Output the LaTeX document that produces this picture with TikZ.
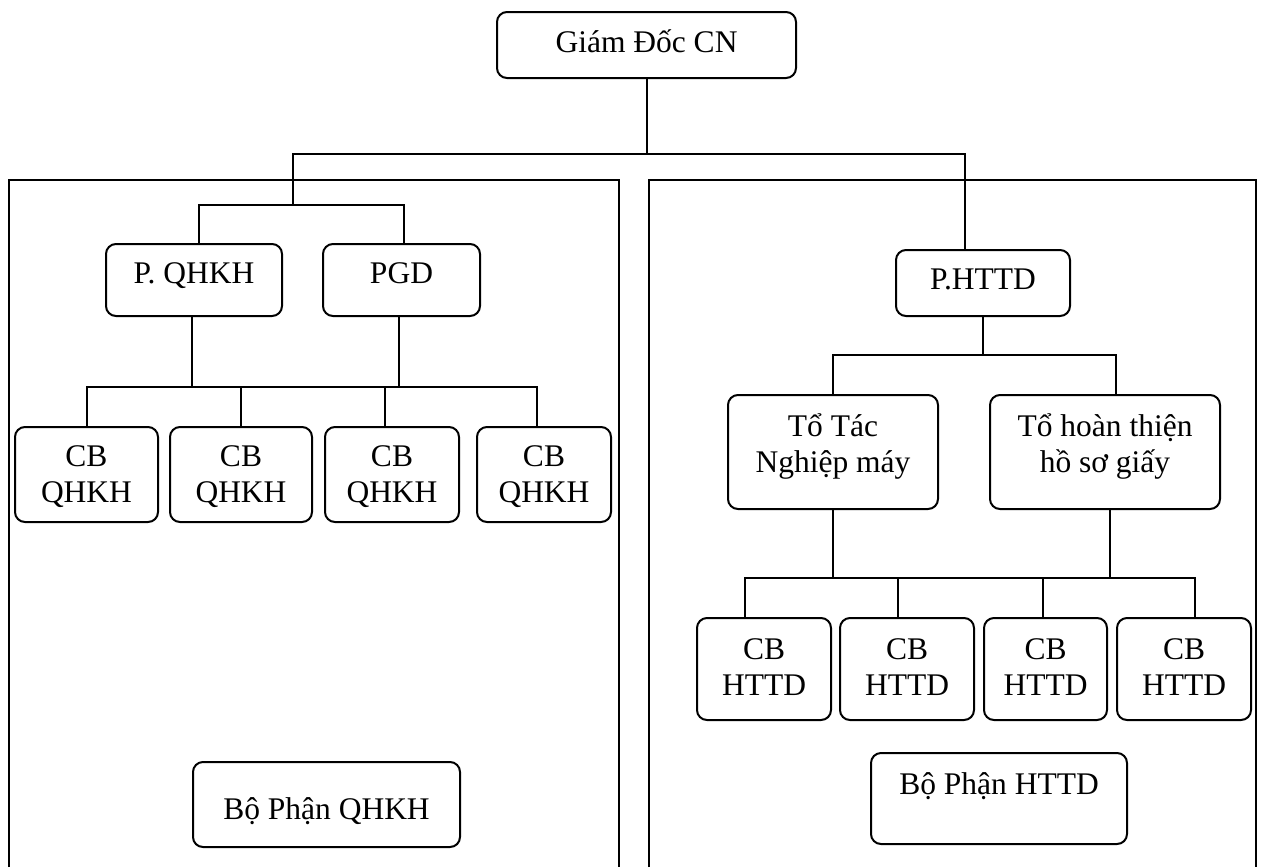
\documentclass[tikz,border=0pt]{standalone}
\usepackage{fontspec}
\setmainfont{Liberation Serif}
% centred lines of box text, raised by the optional amount
\newcommand\boxtext[2][0pt]{\raisebox{#1}[\height][\depth]{\begin{tabular}{@{}c@{}}#2\end{tabular}}}
\begin{document}
\begin{tikzpicture}[x=0.5pt,y=-0.5pt,line width=1pt,
  box/.style={draw, rounded corners=5pt, inner sep=0pt,
    font=\fontsize{15.75}{18}\selectfont},
  frame/.style={draw, line width=1.1pt}]
\useasboundingbox (0,0) rectangle (1267,867);

% two department frames, open at the bottom
\draw[frame] (9,867) -- (9,180) -- (619,180) -- (619,867);
\draw[frame] (649,867) -- (649,180) -- (1256,180) -- (1256,867);

% director
\node[box, minimum width=149.5pt, minimum height=33pt] (gd) at (646.5,45) {\boxtext{Giám Đốc CN}};

% left department
\node[box, minimum width=88pt, minimum height=36pt] (pq) at (194,280) {\boxtext[1.65pt]{P. QHKH}};
\node[box, minimum width=78.5pt, minimum height=36pt] (pgd) at (401.5,280) {\boxtext[1.65pt]{PGD}};
\node[box, minimum width=71.5pt, minimum height=47.5pt] (q1) at (86.5,474.5) {\boxtext[-1.6pt]{CB\\QHKH}};
\node[box, minimum width=71pt, minimum height=47.5pt] (q2) at (241,474.5) {\boxtext[-1.6pt]{CB\\QHKH}};
\node[box, minimum width=67pt, minimum height=47.5pt] (q3) at (392,474.5) {\boxtext[-1.6pt]{CB\\QHKH}};
\node[box, minimum width=67pt, minimum height=47.5pt] (q4) at (544,474.5) {\boxtext[-1.6pt]{CB\\QHKH}};
\node[box, minimum width=133.5pt, minimum height=42.5pt] (bq) at (326.5,804.5) {\boxtext[-4.1pt]{Bộ Phận QHKH}};

% right department
\node[box, minimum width=87pt, minimum height=33pt] (ph) at (983,283) {\boxtext[0.4pt]{P.HTTD}};
\node[box, minimum width=105pt, minimum height=57pt] (tt) at (833,452) {\boxtext[2.3pt]{Tổ Tác\\Nghiệp máy}};
\node[box, minimum width=115pt, minimum height=57pt] (th) at (1105,452) {\boxtext[2.3pt]{Tổ hoàn thiện\\hồ sơ giấy}};
\node[box, minimum width=67pt, minimum height=51pt] (h1) at (764,669) {\boxtext[-0.7pt]{CB\\HTTD}};
\node[box, minimum width=67pt, minimum height=51pt] (h2) at (907,669) {\boxtext[-0.7pt]{CB\\HTTD}};
\node[box, minimum width=61.5pt, minimum height=51pt] (h3) at (1045.5,669) {\boxtext[-0.7pt]{CB\\HTTD}};
\node[box, minimum width=67pt, minimum height=51pt] (h4) at (1184,669) {\boxtext[-0.7pt]{CB\\HTTD}};
\node[box, minimum width=128pt, minimum height=45.5pt] (bh) at (999,798.5) {\boxtext[5.65pt]{Bộ Phận HTTD}};

% bus levels
\coordinate (j1) at (293,154);
\coordinate (j2) at (293,205);
\coordinate (j3) at (0,387);
\coordinate (j4) at (0,355);
\coordinate (j5) at (0,578);

% top level
\draw (gd.south) -- (gd.south |- j1);
\draw ([xshift=-9pt]ph.north) |- (j1) -- (j2);
\draw ([xshift=2.5pt]pq.north) |- (j2) -| ([xshift=1.25pt]pgd.north);

% left staff
\draw ([xshift=-1pt]pq.south) -- ([xshift=-1pt]pq.south |- j3);
\draw ([xshift=-1.25pt]pgd.south) -- ([xshift=-1.25pt]pgd.south |- j3);
\draw (q1.north) |- ([xshift=-3.5pt]q4.north |- j3) -- ([xshift=-3.5pt]q4.north);
\draw (q2.north) -- (q2.north |- j3);
\draw ([xshift=-3.5pt]q3.north) -- ([xshift=-3.5pt]q3.north |- j3);

% right teams
\draw (ph.south) -- (ph.south |- j4);
\draw (tt.north) |- ([xshift=5.5pt]th.north |- j4) -- ([xshift=5.5pt]th.north);

% right staff
\draw (tt.south) -- (tt.south |- j5);
\draw ([xshift=2.5pt]th.south) -- ([xshift=2.5pt]th.south |- j5);
\draw ([xshift=-9.5pt]h1.north) |- ([xshift=5.5pt]h4.north |- j5) -- ([xshift=5.5pt]h4.north);
\draw ([xshift=-4.5pt]h2.north) -- ([xshift=-4.5pt]h2.north |- j5);
\draw ([xshift=-1.25pt]h3.north) -- ([xshift=-1.25pt]h3.north |- j5);
\end{tikzpicture}
\end{document}
